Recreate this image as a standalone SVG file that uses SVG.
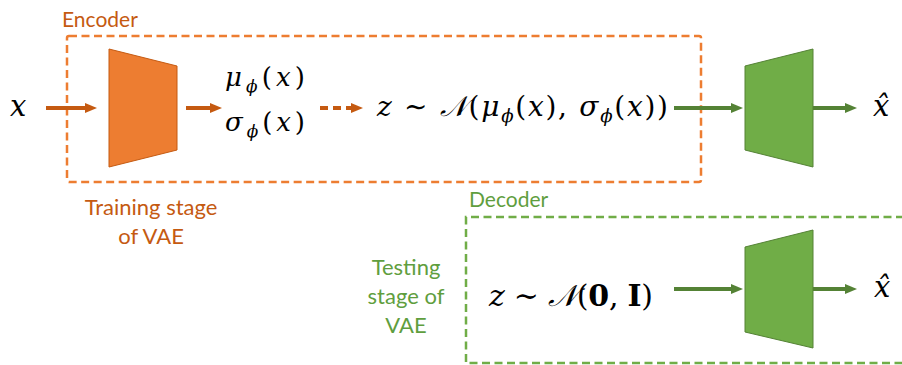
<svg xmlns="http://www.w3.org/2000/svg" width="902" height="365" viewBox="0 0 902 365">
<style>
.lbl{font-family:Lato,"Open Sans","Liberation Sans",sans-serif;font-size:21px}
.l2{font-size:22px}
.or{fill:#C55A11}
.gr{fill:#5F9E3E}
.m{font-family:"DejaVu Serif","Liberation Serif",serif;font-style:italic;fill:#000}
.up{font-style:normal}
.b{font-style:normal;font-weight:bold}
.sub{font-size:65%}
.ca{stroke:#C55A11;stroke-width:4;fill:none}
.ga{stroke:#548235;stroke-width:4;fill:none}
</style>
<defs>
<marker id="ho" markerUnits="userSpaceOnUse" markerWidth="12" markerHeight="10" refX="0" refY="5" orient="auto"><path d="M0,0 L12,5 L0,10 z" fill="#C55A11"/></marker>
<marker id="hg" markerUnits="userSpaceOnUse" markerWidth="12" markerHeight="10" refX="0" refY="5" orient="auto"><path d="M0,0 L12,5 L0,10 z" fill="#548235"/></marker>
</defs>
<rect width="902" height="365" fill="#fff"/>

<g id="encoder-box">
<rect x="67" y="36" width="634" height="146" rx="2" fill="none" stroke="#ED7D31" stroke-width="2.5" stroke-dasharray="8,4.5"/>
<text class="lbl or" x="62" y="27">Encoder</text>
</g>
<g id="decoder-box">
<path d="M904,217 L466,217 L466,363 L904,363" fill="none" stroke="#70AD47" stroke-width="2.5" stroke-dasharray="8,4.5"/>
<text class="lbl gr" x="469" y="207">Decoder</text>
</g>

<g id="training-label">
<text class="lbl l2 or" text-anchor="middle" x="151" y="215">Training stage</text>
<text class="lbl l2 or" text-anchor="middle" x="151" y="244">of VAE</text>
</g>
<g id="testing-label">
<text class="lbl l2 gr" text-anchor="middle" x="406" y="275">Testing</text>
<text class="lbl l2 gr" text-anchor="middle" x="406" y="304">stage of</text>
<text class="lbl l2 gr" text-anchor="middle" x="406" y="333">VAE</text>
</g>

<g id="input-x"><text class="m" x="10" y="116" font-size="29">x</text></g>
<g id="encoder-net"><polygon points="109,49 177,66 177,150 109,167" fill="#ED7D31" stroke="#C55A11" stroke-width="1"/></g>
<g id="mu-sigma">
<text class="m" x="225" y="86" font-size="26" textLength="80" lengthAdjust="spacing">μ<tspan class="sub" dy="6">ϕ</tspan><tspan class="up" dy="-6">(</tspan>x<tspan class="up">)</tspan></text>
<text class="m" x="225" y="131" font-size="26" textLength="80" lengthAdjust="spacing">σ<tspan class="sub" dy="6">ϕ</tspan><tspan class="up" dy="-6">(</tspan>x<tspan class="up">)</tspan></text>
</g>
<g id="latent-train">
<text class="m" x="377" y="116" font-size="28" textLength="291" lengthAdjust="spacing">z <tspan class="up">∼</tspan> 𝒩<tspan class="up">(</tspan>μ<tspan class="sub" dy="6">ϕ</tspan><tspan class="up" dy="-6">(</tspan>x<tspan class="up">), </tspan>σ<tspan class="sub" dy="6">ϕ</tspan><tspan class="up" dy="-6">(</tspan>x<tspan class="up">))</tspan></text>
</g>
<g id="decoder-net-train"><polygon points="745,66 813,49 813,167 745,150" fill="#70AD47" stroke="#548235" stroke-width="1"/></g>
<g id="output-train"><text class="m" x="873" y="116" font-size="29">x̂</text></g>

<g id="latent-test">
<text class="m" x="489" y="306" font-size="30" textLength="164" lengthAdjust="spacing">z <tspan class="up">∼</tspan> 𝒩<tspan class="up">(</tspan><tspan class="b">0</tspan><tspan class="up">, </tspan><tspan class="b">I</tspan><tspan class="up">)</tspan></text>
</g>
<g id="decoder-net-test"><polygon points="745,247 813,230 813,348 745,332" fill="#70AD47" stroke="#548235" stroke-width="1"/></g>
<g id="output-test"><text class="m" x="874" y="297" font-size="29">x̂</text></g>

<g id="connectors">
<line class="ca" x1="46" y1="108" x2="85" y2="108" marker-end="url(#ho)"/>
<line class="ca" x1="186" y1="108" x2="210" y2="108" marker-end="url(#ho)"/>
<line class="ca" x1="320" y1="108" x2="351" y2="108" stroke-dasharray="8,5" marker-end="url(#ho)"/>
<line class="ga" x1="674" y1="108" x2="731" y2="108" marker-end="url(#hg)"/>
<line class="ga" x1="813" y1="108" x2="845" y2="108" marker-end="url(#hg)"/>
<line class="ga" x1="674" y1="289" x2="731" y2="289" marker-end="url(#hg)"/>
<line class="ga" x1="813" y1="289" x2="845" y2="289" marker-end="url(#hg)"/>
</g>
</svg>
